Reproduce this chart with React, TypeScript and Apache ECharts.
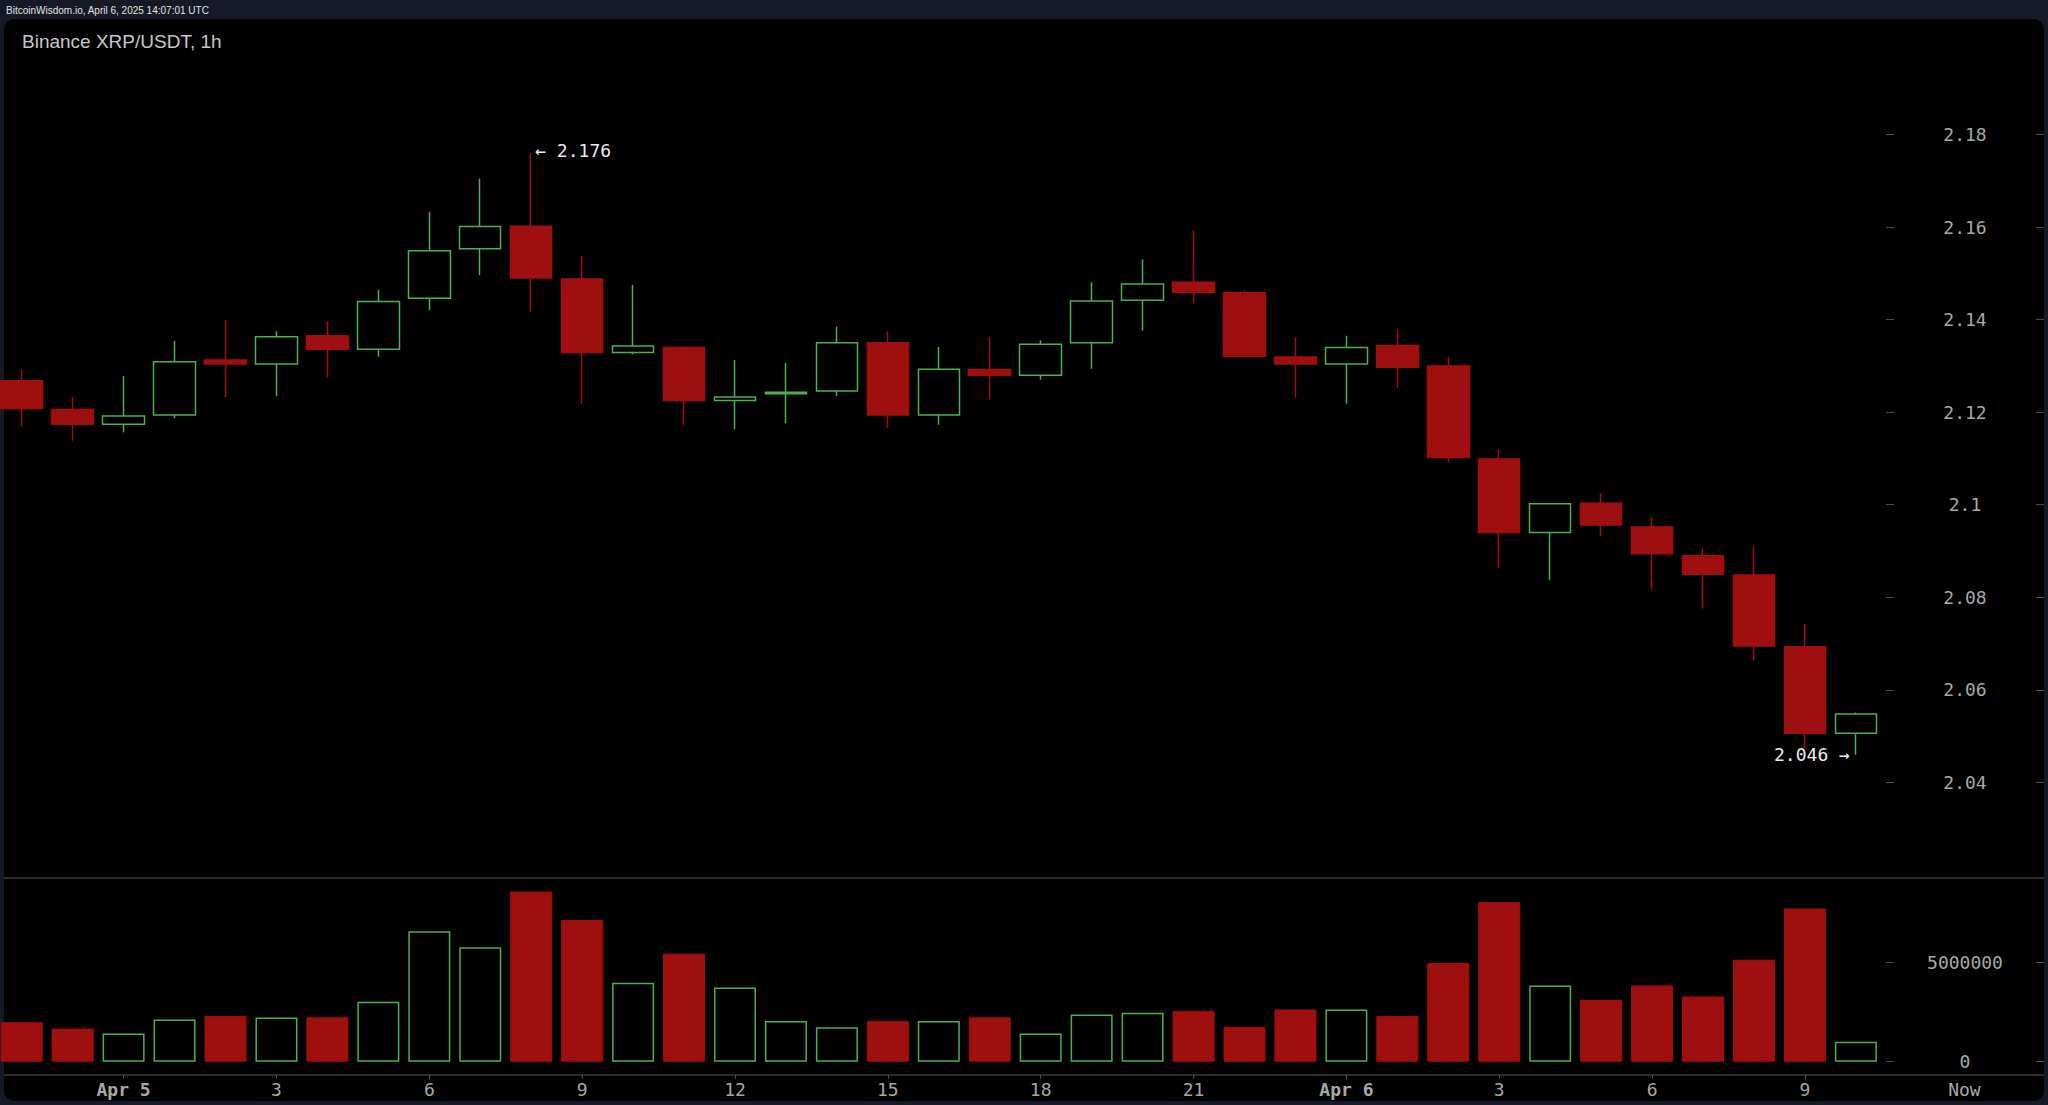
import React, { useEffect, useRef } from "react";
import * as echarts from "echarts";

// ---------------- data ----------------
const HEADER_TEXT = "BitcoinWisdom.io, April 6, 2025 14:07:01 UTC";
const TITLE_TEXT = "Binance XRP/USDT, 1h";

// 37 hourly candles: Apr 4 22:00 ... Apr 6 10:00
const opens = [
  2.1268, 2.1206, 2.1174, 2.1194, 2.1313, 2.1304, 2.1365, 2.1336, 2.1446, 2.1553,
  2.1602, 2.1488, 2.1329, 2.1340, 2.1225, 2.1240, 2.1246, 2.1350, 2.1194, 2.1292,
  2.1280, 2.1350, 2.1442, 2.1481, 2.1458, 2.1319, 2.1304, 2.1344, 2.1300, 2.1099,
  2.0940, 2.1003, 2.0952, 2.0890, 2.0848, 2.0693, 2.0506,
];
const closes = [
  2.1208, 2.1174, 2.1192, 2.1309, 2.1304, 2.1363, 2.1336, 2.1439, 2.1549, 2.1601,
  2.1490, 2.1329, 2.1343, 2.1225, 2.1233, 2.1243, 2.1350, 2.1194, 2.1293, 2.1280,
  2.1347, 2.1440, 2.1477, 2.1459, 2.1321, 2.1304, 2.1340, 2.1297, 2.1102, 2.0940,
  2.1002, 2.0956, 2.0894, 2.0850, 2.0695, 2.0506, 2.0548,
];
const lows = [
  2.1169, 2.1138, 2.1156, 2.1187, 2.1232, 2.1235, 2.1275, 2.1320, 2.1421, 2.1496,
  2.1417, 2.1218, 2.1325, 2.1172, 2.1163, 2.1176, 2.1235, 2.1166, 2.1173, 2.1228,
  2.1270, 2.1294, 2.1376, 2.1435, 2.1320, 2.1231, 2.1218, 2.1253, 2.1091, 2.0863,
  2.0837, 2.0932, 2.0818, 2.0776, 2.0663, 2.0475, 2.0460,
];
const highs = [
  2.1293, 2.1233, 2.1278, 2.1354, 2.1399, 2.1375, 2.1396, 2.1464, 2.1633, 2.1705,
  2.1760, 2.1537, 2.1475, 2.1342, 2.1313, 2.1306, 2.1385, 2.1375, 2.1341, 2.1362,
  2.1355, 2.1481, 2.1530, 2.1592, 2.1463, 2.1362, 2.1365, 2.1379, 2.1320, 2.1120,
  2.1003, 2.1025, 2.0974, 2.0907, 2.0911, 2.0742, 2.0551,
];
const volumes = [
  1993000, 1672000, 1419000, 2128000, 2314000, 2229000, 2246000, 3023000, 6587000, 5776000,
  8597000, 7161000, 3986000, 5455000, 3750000, 2061000, 1740000, 2061000, 2061000, 2246000,
  1419000, 2381000, 2466000, 2567000, 1757000, 2635000, 2635000, 2314000, 4983000, 8057000,
  3851000, 3125000, 3851000, 3294000, 5151000, 7736000, 1013000,
];

const timeTickIdx = [2, 5, 8, 11, 14, 17, 20, 23, 26, 29, 32, 35];
const timeTickLabels = ["Apr 5", "3", "6", "9", "12", "15", "18", "21", "Apr 6", "3", "6", "9"];
const dayLabels = ["Apr 5", "Apr 6"];
const NOW_LABEL = "Now";
const priceTicks = [2.04, 2.06, 2.08, 2.1, 2.12, 2.14, 2.16, 2.18];
const volumeTicks = [0, 5000000];

// ---------------- layout / style ----------------
const W = 2048;
const H = 1105;
const FRAME = "#161a26";
const PANEL = "#000000";
const RED = "#a00f0f";
const GREEN = "#4caf50";
const AXIS_LINE = "#3a3a3a";
const TICK = "#4c4c4c";
const LABEL = "#a8a8a8";
const MONO = '"DejaVu Sans Mono", monospace';
const SANS = '"Liberation Sans", Arial, Helvetica, sans-serif';

const X_MIN = -0.3474;
const X_MAX = 39.692;
const NOW_POS = 38.13;
const PRICE_MIN = 2.01941;
const PRICE_MAX = 2.20474;
const VOL_MIN = -671717;
const VOL_MAX = 9292929;

const PRICE_TOP = 20;
const PRICE_H = 857.7;
const VOL_TOP = 877.7;
const VOL_H = 197.3;

const fmtPrice = (v: number) => String(Math.round(v * 100) / 100);

function buildOption() {
  const candleData = opens.map((o, i) => [i, o, closes[i], lows[i], highs[i]]);
  const hiVal = Math.max(...highs);
  const hiIdx = highs.indexOf(hiVal);
  const loVal = Math.min(...lows);
  const loIdx = lows.indexOf(loVal);

  const volData = volumes.map((v, i) => {
    const up = closes[i] >= opens[i];
    return {
      value: [i, v],
      itemStyle: up
        ? { color: "rgba(0,0,0,0)", borderColor: GREEN, borderWidth: 1.5 }
        : { color: RED, borderColor: RED, borderWidth: 1 },
    };
  });

  const labelStyle = {
    color: LABEL,
    fontFamily: MONO,
    fontSize: 18,
  };

  const hiddenX = (gridIndex: number) => ({
    type: "value",
    gridIndex,
    min: X_MIN,
    max: X_MAX,
    show: false,
    axisLine: { onZero: false },
  });

  const yAxisFor = (
    gridIndex: number,
    min: number,
    max: number,
    ticks: number[],
    withLabels: boolean
  ) => ({
    type: "value",
    gridIndex,
    position: "right",
    min,
    max,
    axisLine: { show: false, onZero: false },
    splitLine: { show: false },
    axisTick: {
      show: true,
      inside: true,
      length: 8,
      customValues: ticks,
      lineStyle: { color: TICK },
    },
    axisLabel: withLabels
      ? {
          show: true,
          inside: true,
          margin: 79,
          align: "center",
          customValues: ticks,
          formatter: (v: number) => (gridIndex === 0 ? fmtPrice(v) : String(v)),
          ...labelStyle,
        }
      : { show: false },
  });

  return {
    animation: false,
    backgroundColor: FRAME,
    graphic: [
      {
        type: "rect",
        z: -10,
        silent: true,
        shape: { x: 4, y: 19, width: 2040, height: 1082, r: 10 },
        style: { fill: PANEL },
      },
      {
        type: "text",
        x: 6,
        y: 10,
        silent: true,
        style: {
          text: HEADER_TEXT,
          fill: "#e2e2e2",
          fontSize: 10,
          fontFamily: SANS,
          verticalAlign: "middle",
        },
      },
      {
        type: "text",
        x: 22,
        y: 41,
        silent: true,
        style: {
          text: TITLE_TEXT,
          fill: "#c8c8c8",
          fontSize: 19,
          fontFamily: SANS,
          verticalAlign: "middle",
        },
      },
    ],
    grid: [
      { left: 4, top: PRICE_TOP, width: 2040, height: PRICE_H },
      { left: 4, top: VOL_TOP, width: 2040, height: VOL_H },
      // tick-only grids whose right edge sits at the inner tick column
      { left: 1000, top: PRICE_TOP, width: 894, height: PRICE_H },
      { left: 1000, top: VOL_TOP, width: 894, height: VOL_H },
    ],
    xAxis: [
      {
        type: "value",
        gridIndex: 0,
        position: "bottom",
        min: X_MIN,
        max: X_MAX,
        axisLine: { show: true, onZero: false, lineStyle: { color: AXIS_LINE, width: 1.5 } },
        axisTick: { show: false },
        axisLabel: { show: false },
        splitLine: { show: false },
      },
      {
        type: "value",
        gridIndex: 1,
        position: "bottom",
        min: X_MIN,
        max: X_MAX,
        axisLine: { show: true, onZero: false, lineStyle: { color: AXIS_LINE, width: 1.5 } },
        axisTick: {
          show: true,
          length: 4,
          customValues: timeTickIdx,
          lineStyle: { color: TICK },
        },
        axisLabel: {
          show: true,
          margin: 5,
          customValues: [...timeTickIdx, NOW_POS],
          ...labelStyle,
          formatter: (v: number) => {
            const k = timeTickIdx.indexOf(v);
            if (k < 0) return NOW_LABEL;
            const t = timeTickLabels[k];
            return dayLabels.includes(t) ? `{d|${t}}` : t;
          },
          rich: {
            d: { ...labelStyle, fontWeight: "bold" },
          },
        },
        splitLine: { show: false },
      },
      hiddenX(2),
      hiddenX(3),
    ],
    yAxis: [
      yAxisFor(0, PRICE_MIN, PRICE_MAX, priceTicks, true),
      yAxisFor(1, VOL_MIN, VOL_MAX, volumeTicks, true),
      yAxisFor(2, PRICE_MIN, PRICE_MAX, priceTicks, false),
      yAxisFor(3, VOL_MIN, VOL_MAX, volumeTicks, false),
    ],
    series: [
      {
        type: "candlestick",
        xAxisIndex: 0,
        yAxisIndex: 0,
        barWidth: 42,
        data: candleData,
        itemStyle: {
          color: "rgba(0,0,0,0)",
          color0: RED,
          borderColor: GREEN,
          borderColor0: RED,
          borderWidth: 1.5,
        },
        markPoint: {
          symbol: "circle",
          symbolSize: 2,
          itemStyle: { color: "rgba(0,0,0,0)" },
          label: {
            show: true,
            color: "#ececec",
            fontFamily: MONO,
            fontSize: 18,
          },
          data: [
            {
              coord: [hiIdx, hiVal],
              value: hiVal,
              label: {
                position: "right",
                distance: 3,
                offset: [0, -3],
                formatter: "← {c}",
              },
            },
            {
              coord: [loIdx, loVal],
              value: loVal,
              label: { position: "left", distance: 5, formatter: "{c} →" },
            },
          ],
        },
      },
      {
        type: "bar",
        xAxisIndex: 1,
        yAxisIndex: 1,
        barWidth: 42,
        data: volData,
      },
    ],
  };
}

export default function App() {
  const ref = useRef<HTMLDivElement>(null);
  useEffect(() => {
    if (!ref.current) return;
    const chart = echarts.init(ref.current, null, { renderer: "svg" });
    chart.setOption(buildOption() as any);
    return () => chart.dispose();
  }, []);
  return (
    <div
      ref={ref}
      style={{ position: "fixed", left: 0, top: 0, width: W, height: H }}
    />
  );
}
